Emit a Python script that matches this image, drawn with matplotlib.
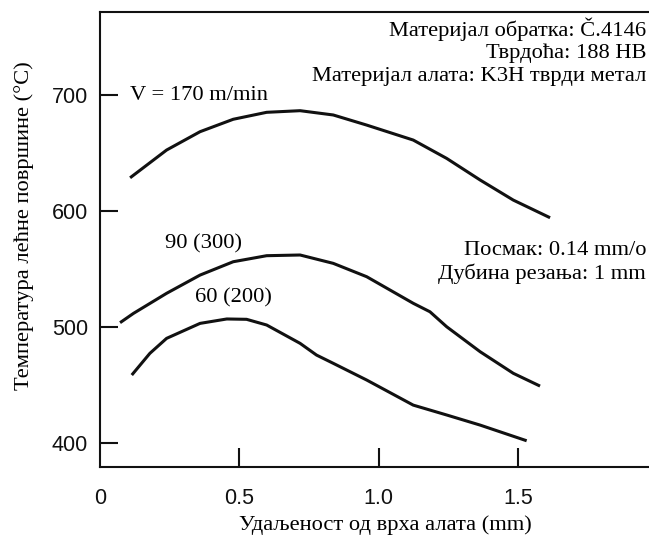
import matplotlib
matplotlib.use("Agg")
import matplotlib.pyplot as plt

# Data
x_170 = [0.108, 0.239, 0.359, 0.478, 0.598, 0.718, 0.837, 0.957, 1.124, 1.244, 1.364, 1.483, 1.615]
y_170 = [628.8, 652.7, 668.5, 679.2, 685.2, 686.6, 682.9, 674.2, 661.3, 645.5, 626.9, 609.6, 594.4]

x_90 = [0.072, 0.120, 0.239, 0.359, 0.478, 0.598, 0.718, 0.837, 0.957, 1.124, 1.184, 1.244, 1.364, 1.483, 1.579]
y_90 = [504.0, 512.0, 529.3, 545.0, 556.5, 561.7, 562.3, 555.1, 543.6, 520.7, 513.4, 500.5, 479.0, 460.4, 449.4]

x_60 = [0.114, 0.179, 0.239, 0.359, 0.455, 0.526, 0.598, 0.718, 0.777, 0.837, 0.957, 1.124, 1.244, 1.364, 1.531]
y_60 = [458.9, 477.6, 490.5, 503.4, 507.2, 506.9, 502.0, 486.2, 476.1, 469.0, 454.6, 433.0, 424.5, 415.8, 402.3]

x_ticks = [0, 0.5, 1.0, 1.5]
x_tick_labels = ["0", "0.5", "1.0", "1.5"]
y_ticks = [400, 500, 600, 700]
y_tick_labels = ["400", "500", "600", "700"]

curve_labels = ["V = 170 m/min", "90 (300)", "60 (200)"]
info_top = ["Материјал обратка: Č.4146", "Тврдоћа: 188 HB", "Материјал алата: K3H тврди метал"]
info_mid = ["Посмак: 0.14 mm/o", "Дубина резања: 1 mm"]
x_label = "Удаљеност од врха алата (mm)"
y_label = "Температура лећне површине (°C)"

W, H = 649, 536
fig = plt.figure(figsize=(W / 100, H / 100), dpi=100)
ax = fig.add_axes([100 / W, (H - 467) / H, 1 - 100 / W, (467 - 12) / H])

serif = ["Liberation Serif", "DejaVu Serif"]
sans = ["Liberation Sans", "DejaVu Sans"]
col = "#111111"

for xs, ys in [(x_170, y_170), (x_90, y_90), (x_60, y_60)]:
    ax.plot(xs, ys, color=col, lw=2.2, solid_capstyle="butt", solid_joinstyle="round")

ax.set_xlim(0, 1.97)
ax.set_ylim(379.7, 771.6)
ax.spines["right"].set_visible(False)
for s in ["left", "bottom", "top"]:
    ax.spines[s].set_linewidth(1.5)
    ax.spines[s].set_color(col)

ax.set_xticks(x_ticks)
ax.set_xticklabels(x_tick_labels, fontfamily=sans, fontsize=15.5)
ax.set_yticks(y_ticks)
ax.set_yticklabels(y_tick_labels, fontfamily=sans, fontsize=15.5)
ax.tick_params(axis="x", direction="in", length=14, width=1.5, pad=15, colors=col, top=False)
ax.tick_params(axis="y", direction="in", length=13, width=1.5, pad=8.5, colors=col, right=False)
ax.xaxis.get_major_ticks()[0].tick1line.set_visible(False)

fs = 16.2
ax.text(0.108, 700, curve_labels[0], fontfamily=serif, fontsize=fs, va="center", ha="left")
ax.text(0.233, 572, curve_labels[1], fontfamily=serif, fontsize=fs, va="center", ha="left")
ax.text(0.341, 525, curve_labels[2], fontfamily=serif, fontsize=fs, va="center", ha="left")

for i, t in enumerate(info_top):
    fig.text(646 / W, 1 - (29 + 24 * i) / H, t, fontfamily=serif, fontsize=fs, ha="right", va="center")
for i, t in enumerate(info_mid):
    fig.text(646 / W, 1 - (250 + 24 * i) / H, t, fontfamily=serif, fontsize=fs, ha="right", va="center")

fig.text(385 / W, 1 - 525 / H, x_label, fontfamily=serif, fontsize=fs, ha="center", va="center")
fig.text(24 / W, 1 - 226 / H, y_label, fontfamily=serif, fontsize=fs, ha="center", va="center", rotation=90)

fig.savefig("out.png", dpi=100)
